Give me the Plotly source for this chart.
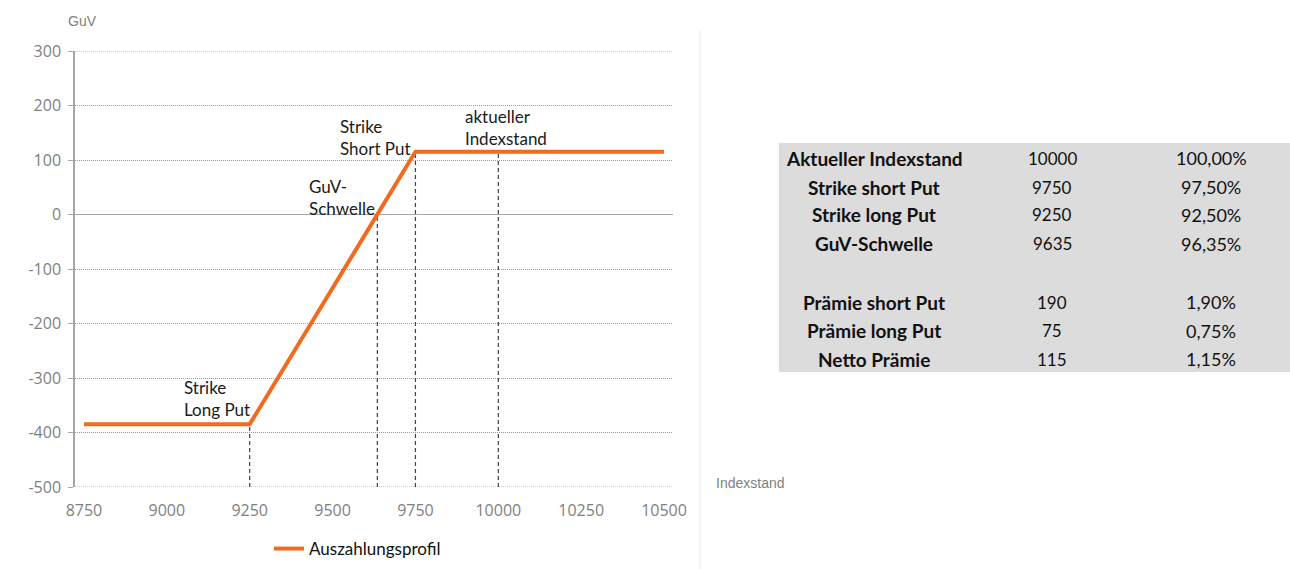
import plotly.graph_objects as go

# ---- data ----
index_x = [8750, 9250, 9750, 10500]
payoff_y = [-385, -385, 115, 115]

marker_x = [9250, 9635, 9750, 10000]
marker_top = [-385, 0, 115, 115]
y_bottom = -500

x_ticks = [8750, 9000, 9250, 9500, 9750, 10000, 10250, 10500]
x_tick_labels = ["8750", "9000", "9250", "9500", "9750", "10000", "10250", "10500"]
y_ticks = [300, 200, 100, 0, -100, -200, -300, -400, -500]
y_tick_labels = ["300", "200", "100", "0", "-100", "-200", "-300", "-400", "-500"]
y_edge_grid = [300, -500]

note_texts = ["Strike<br>Short Put", "aktueller<br>Indexstand", "GuV-<br>Schwelle", "Strike<br>Long Put"]

table_labels = ["Aktueller Indexstand", "Strike short Put", "Strike long Put", "GuV-Schwelle",
                "Prämie short Put", "Prämie long Put", "Netto Prämie"]
table_values = ["10000", "9750", "9250", "9635", "190", "75", "115"]
table_pcts = ["100,00%", "97,50%", "92,50%", "96,35%", "1,90%", "0,75%", "1,15%"]

ORANGE = "#F26A1F"
GRAY_TXT = "#7f7f7f"
GRID = "#9a9a9a"

# pixel helpers for layout (plot area 75..673 x, 51..487 y)
L, R, T, B = 75, 673, 51, 487
def px(xp):
    return (xp - L) / (R - L)
def py(yp):
    return (B - yp) / (B - T)

fig = go.Figure()

for xv, top in zip(marker_x, marker_top):
    fig.add_trace(go.Scatter(x=[xv, xv], y=[y_bottom, top], mode="lines",
                             line=dict(color="#404040", width=1.2, dash="4px,3px"),
                             showlegend=False, hoverinfo="skip"))

fig.add_trace(go.Scatter(x=index_x, y=payoff_y, mode="lines", name="Auszahlungsprofil",
                         line=dict(color=ORANGE, width=4)))

annotations = []
note_pos = [(9516, 142), (9894, 160), (9423, 32), (9046, -337)]
for txt, (ax, ay) in zip(note_texts, note_pos):
    annotations.append(dict(x=ax, y=ay, xref="x", yref="y", text=txt, showarrow=False,
                            xanchor="left", yanchor="middle", align="left",
                            font=dict(family="Lato", size=17, color="#1a1a1a")))

annotations.append(dict(x=px(66), y=py(21), xref="paper", yref="paper", text="GuV",
                        showarrow=False, xanchor="left", yanchor="middle",
                        font=dict(family="Liberation Sans", size=14, color=GRAY_TXT)))
annotations.append(dict(x=px(714), y=py(483), xref="paper", yref="paper", text="Indexstand",
                        showarrow=False, xanchor="left", yanchor="middle",
                        font=dict(family="Liberation Sans", size=14, color=GRAY_TXT)))

row_y = [158, 187, 215, 244, 302, 331, 359]
for lab, val, pct, ry in zip(table_labels, table_values, table_pcts, row_y):
    annotations.append(dict(x=px(874), y=py(ry), xref="paper", yref="paper", text="<b>%s</b>" % lab,
                            showarrow=False, xanchor="center", yanchor="middle",
                            font=dict(family="Lato", size=19, color="#111111")))
    annotations.append(dict(x=px(1052), y=py(ry), xref="paper", yref="paper", text=val,
                            showarrow=False, xanchor="center", yanchor="middle",
                            font=dict(family="Lato", size=17, color="#111111")))
    annotations.append(dict(x=px(1211), y=py(ry), xref="paper", yref="paper", text=pct,
                            showarrow=False, xanchor="center", yanchor="middle",
                            font=dict(family="Lato", size=18, color="#111111")))

shapes = [
    dict(type="rect", xref="paper", yref="paper", x0=px(779), x1=px(1292), y0=py(372), y1=py(143),
         fillcolor="#dcdcdc", line=dict(width=0), layer="below"),
    dict(type="line", xref="paper", yref="paper", x0=px(700), x1=px(700), y0=py(30), y1=py(570),
         line=dict(color="#ebebeb", width=1)),
]
for gy in y_edge_grid:
    shapes.append(dict(type="line", xref="paper", yref="y", x0=0, x1=1, y0=gy, y1=gy,
                       line=dict(color=GRID, width=1, dash="1px,1px"), layer="below"))

fig.update_layout(
    width=1290, height=569,
    margin=dict(l=L, r=1290 - R, t=T, b=569 - B, autoexpand=False),
    paper_bgcolor="white", plot_bgcolor="white",
    annotations=annotations, shapes=shapes,
    showlegend=True,
    legend=dict(orientation="h", x=px(269), y=py(549), xanchor="left", yanchor="middle",
                font=dict(family="Lato", size=17, color="#111111"), bgcolor="rgba(0,0,0,0)"),
    xaxis=dict(range=[8723, 10527], tickvals=x_ticks, ticktext=x_tick_labels, showgrid=False,
               zeroline=False, showline=False, ticks="", ticklabelstandoff=12,
               tickfont=dict(family="Open Sans", size=16, color=GRAY_TXT)),
    yaxis=dict(range=[-500, 300], tickvals=y_ticks, ticktext=y_tick_labels, showgrid=True,
               gridcolor=GRID, griddash="1px,1px", gridwidth=1, zeroline=True,
               zerolinecolor="#a6a6a6", zerolinewidth=1,
               showline=True, linecolor="#a6a6a6", linewidth=1.5, ticks="outside", ticklen=5,
               tickcolor="#a6a6a6", ticklabelstandoff=4,
               tickfont=dict(family="Open Sans", size=16, color=GRAY_TXT)),
)

fig.write_html("out.html")
